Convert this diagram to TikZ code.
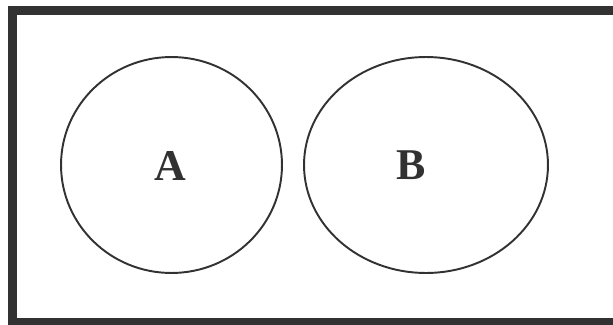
\documentclass[tikz,border=0pt]{standalone}
\usepackage{fontspec}
\setmainfont{Liberation Serif}
\usetikzlibrary{shapes.geometric}
\definecolor{inkgray}{RGB}{50,50,50}
\tikzset{
  frameline/.style={line width=5.1pt,draw=inkgray,line join=miter},
  setshape/.style={ellipse,draw=inkgray,line width=1.1pt,inner sep=0pt,outer sep=0pt},
  setlabel/.style={text=inkgray,font=\fontsize{25}{25}\selectfont\bfseries,inner sep=0pt}
}
\begin{document}
\begin{tikzpicture}[x=0.02cm,y=-0.02cm]
  \useasboundingbox (0,0) rectangle (613,325);
  \clip (0,0) rectangle (613,325);
  % outer frame, cut off at right and bottom
  \draw[frameline] (12.5,10.5) rectangle (640,322);
  % the two sets
  \node[setshape,minimum width=4.42cm,minimum height=4.32cm] (setA) at (171.5,165) {};
  \node[setshape,minimum width=4.88cm,minimum height=4.32cm] (setB) at (426,165) {};
  \node[setlabel] (labA) at (170,166) {A};
  \node[setlabel] (labB) at (411,165) {B};
\end{tikzpicture}
\end{document}
